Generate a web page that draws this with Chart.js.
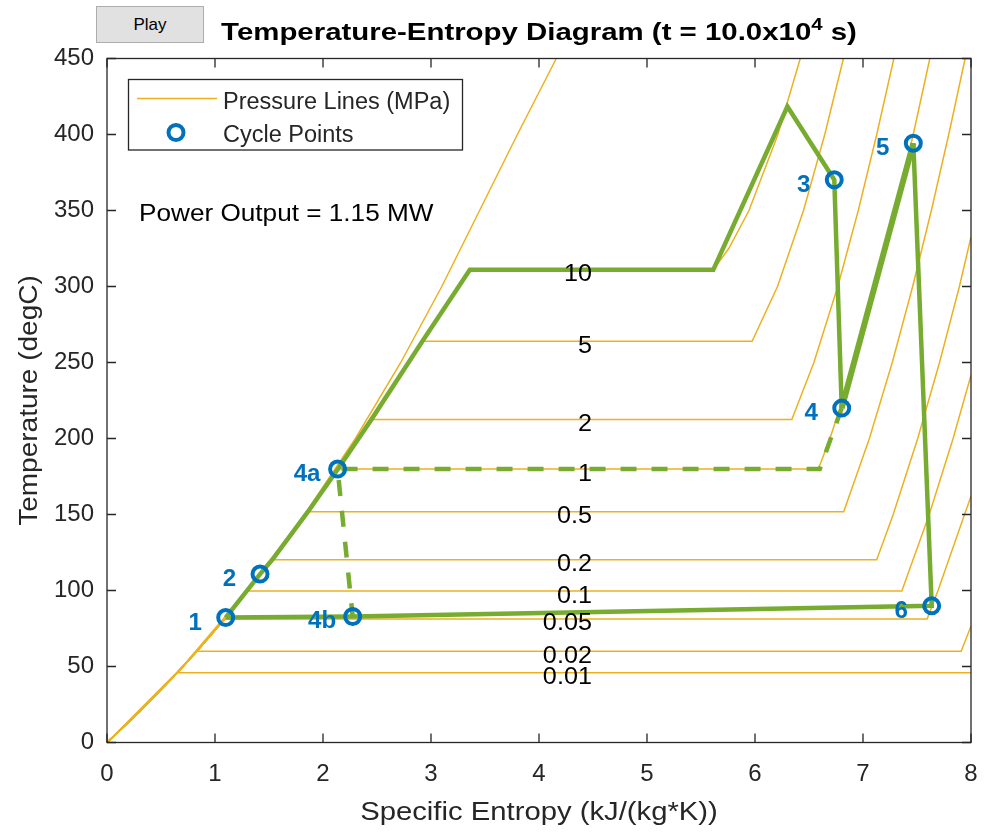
<!DOCTYPE html>
<html><head><meta charset="utf-8">
<script src="https://cdn.jsdelivr.net/npm/chart.js@4/dist/chart.umd.min.js"></script>
<style>
html,body{margin:0;padding:0;background:#fff;}
#wrap{position:relative;width:985px;height:835px;overflow:hidden;}
canvas{position:absolute;left:0;top:0;}
#play{position:absolute;left:96px;top:6px;width:108px;height:37px;background:#e1e1e1;border:1px solid #adadad;box-sizing:border-box;font:17px "Liberation Sans",Arial,sans-serif;color:#000;display:flex;align-items:center;justify-content:center;}
</style></head>
<body><div id="wrap"><canvas id="c" width="985" height="835"></canvas><div id="play">Play</div></div>
<script>
// ---- data ----
const pressureLabels = ['10','5','2','1','0.5','0.2','0.1','0.05','0.02','0.01'];
// saturated liquid line (T degC, s kJ/kgK); each pressure's Tsat is one of these entries
const satLiqT = [0, 20, 45.81, 60.06, 81.33, 99.63, 120.23, 151.86, 179.91, 212.42, 263.99, 311.06];
const satLiqS = [0, 0.2966, 0.6493, 0.8320, 1.0910, 1.3026, 1.5301, 1.8607, 2.1387, 2.4474, 2.9202, 3.3596];
const satIndex = [11, 10, 9, 8, 7, 6, 5, 4, 3, 2];
// vapour + superheated parts of each isobar
const vap10S = [5.6141, 5.7568, 5.9443, 6.2120, 6.4190], vap10T = [311.06, 325, 350, 400, 450];
const vap5S = [5.9734, 6.2084, 6.4493, 6.6459, 6.8186], vap5T = [263.99, 300, 350, 400, 450];
const vap2S = [6.3409, 6.5453, 6.7664, 6.9563, 7.1271, 7.2859], vap2T = [212.42, 250, 300, 350, 400, 450];
const vap1S = [6.5865, 6.6940, 6.9247, 7.1229, 7.3011, 7.4651, 7.6190], vap1T = [179.91, 200, 250, 300, 350, 400, 450];
const vap05S = [6.8213, 7.0592, 7.2709, 7.4599, 7.6329, 7.7938, 7.9457], vap05T = [151.86, 200, 250, 300, 350, 400, 450];
const vap02S = [7.1271, 7.2795, 7.5066, 7.7086, 7.8926, 8.0], vap02T = [120.23, 150, 200, 250, 300, 332.6];
const vap01S = [7.3594, 7.6134, 7.8343, 8.0], vap01T = [99.63, 150, 200, 241.6];
const vap005S = [7.5939, 7.6947, 7.9401, 8.0], vap005T = [81.33, 100, 150, 162];
const vap002S = [7.9085, 8.0], vap002T = [60.06, 76.5];
const vap001S = [8.0], vap001T = [45.81];
const vapS = [vap10S, vap5S, vap2S, vap1S, vap05S, vap02S, vap01S, vap005S, vap002S, vap001S];
const vapT = [vap10T, vap5T, vap2T, vap1T, vap05T, vap02T, vap01T, vap005T, vap002T, vap001T];
// compressed-liquid boundary line
const liqLineT = [0, 50, 100, 150, 200, 250, 300, 350, 400, 450];
const liqLineS = [0, 0.70, 1.30, 1.83, 2.30, 2.72, 3.10, 3.45, 3.80, 4.16];
// cycle path
const cycleS = [1.099, 1.417, 1.5301, 1.8607, 2.1387, 2.4474, 2.9202, 3.3596, 5.6141, 6.30, 6.734, 6.803, 7.466, 7.636, 2.275, 1.099];
const cycleT = [82.2, 110.8, 120.23, 151.86, 179.91, 212.42, 263.99, 311.06, 311.06, 418.4, 370.2, 220.0, 394.3, 89.9, 82.9, 82.2];
const dashS = [6.803, 6.60, 2.135, 2.275];
const dashT = [220.0, 179.91, 179.91, 82.9];
// cycle points
const pointNames = ['1', '2', '3', '4', '5', '6', '4a', '4b'];
const pointS = [1.099, 1.417, 6.734, 6.803, 7.466, 7.636, 2.135, 2.275];
const pointT = [82.2, 110.8, 370.2, 220.0, 394.3, 89.9, 179.91, 82.9];
const xTicksMax = 8, yTicksMax = 450;
const powerText = 'Power Output = 1.15 MW';

// ---- styles ----
const FAM = '"Liberation Sans", Arial, Helvetica, sans-serif';
const ORANGE = '#EDB120', GREEN = '#77AC30', BLUE = '#0072BD', AX = '#262626';

const datasets = [];
datasets.push({ label: 'liq', data: liqLineS.map((s, i) => ({x: s, y: liqLineT[i]})),
  showLine: true, borderColor: ORANGE, borderWidth: 1.5, pointRadius: 0, order: 5 });
pressureLabels.forEach((p, k) => {
  const pts = [];
  for (let i = 0; i <= satIndex[k]; i++) pts.push({x: satLiqS[i], y: satLiqT[i]});
  vapS[k].forEach((s, i) => pts.push({x: s, y: vapT[k][i]}));
  datasets.push({ label: 'P' + p, data: pts, showLine: true, borderColor: ORANGE, borderWidth: 1.5, pointRadius: 0, order: 5 });
});
datasets.push({ label: 'dash', data: dashS.map((s, i) => ({x: s, y: dashT[i]})), showLine: true,
  borderColor: GREEN, borderWidth: 4.5, borderDash: [16, 15], pointRadius: 0, order: 2 });
datasets.push({ label: 'cycle', data: cycleS.map((s, i) => ({x: s, y: cycleT[i]})), showLine: true,
  borderColor: GREEN, borderWidth: 4.5, pointRadius: 0, order: 1,
  segment: { borderWidth: c => c.p0DataIndex === 11 ? 6 : 4.5 } });
datasets.push({ label: 'points', data: pointS.map((s, i) => ({x: s, y: pointT[i]})), showLine: false,
  borderColor: BLUE, backgroundColor: 'rgba(0,0,0,0)', borderWidth: 4, pointRadius: 7.5, order: 0 });

function drawText(ctx, str, x, y, font, color, align, stretch) {
  ctx.save();
  ctx.font = font; ctx.fillStyle = color; ctx.textBaseline = 'alphabetic';
  const w = ctx.measureText(str).width * stretch;
  let x0 = x;
  if (align === 'center') x0 = x - w / 2; else if (align === 'right') x0 = x - w;
  ctx.translate(x0, y); ctx.scale(stretch, 1); ctx.textAlign = 'left';
  ctx.fillText(str, 0, 0);
  ctx.restore();
}

const decor = {
  id: 'decor',
  afterDraw(chart) {
    const ctx = chart.ctx, a = chart.chartArea, xs = chart.scales.x, ys = chart.scales.y;
    // pressure labels
    pressureLabels.forEach((p, k) => {
      const y = ys.getPixelForValue(satLiqT[satIndex[k]]);
      drawText(ctx, p, xs.getPixelForValue(4.49), y + 11.5, '24px ' + FAM, '#000', 'right', 1.05);
    });
    // point labels
    pointNames.forEach((n, i) => {
      const px = xs.getPixelForValue(pointS[i]), py = ys.getPixelForValue(pointT[i]);
      drawText(ctx, n, px - 30.5, py + 12, 'bold 23px ' + FAM, BLUE, 'center', 1.05);
    });
    // axes box + inward ticks
    ctx.save();
    ctx.strokeStyle = AX; ctx.lineWidth = 1.3;
    ctx.strokeRect(a.left, a.top, a.right - a.left, a.bottom - a.top);
    ctx.beginPath();
    xs.ticks.forEach(t => { const x = xs.getPixelForValue(t.value);
      ctx.moveTo(x, a.bottom); ctx.lineTo(x, a.bottom - 9); ctx.moveTo(x, a.top); ctx.lineTo(x, a.top + 9); });
    ys.ticks.forEach(t => { const y = ys.getPixelForValue(t.value);
      ctx.moveTo(a.left, y); ctx.lineTo(a.left + 9, y); ctx.moveTo(a.right, y); ctx.lineTo(a.right - 9, y); });
    ctx.stroke();
    ctx.restore();
    // legend
    ctx.save();
    ctx.fillStyle = '#fff'; ctx.fillRect(128.5, 79.5, 334, 70.5);
    ctx.strokeStyle = AX; ctx.lineWidth = 1.3; ctx.strokeRect(128.5, 79.5, 334, 70.5);
    ctx.strokeStyle = ORANGE; ctx.lineWidth = 1.5;
    ctx.beginPath(); ctx.moveTo(137, 98.5); ctx.lineTo(217, 98.5); ctx.stroke();
    ctx.strokeStyle = BLUE; ctx.lineWidth = 4;
    ctx.beginPath(); ctx.arc(176, 132.5, 7.5, 0, Math.PI * 2); ctx.stroke();
    ctx.restore();
    drawText(ctx, 'Pressure Lines (MPa)', 223, 108.5, '23.5px ' + FAM, AX, 'left', 1.0);
    drawText(ctx, 'Cycle Points', 223, 141.5, '23.5px ' + FAM, AX, 'left', 1.0);
    // power output
    drawText(ctx, powerText, 139, 221, '24px ' + FAM, '#000', 'left', 1.09);
    // title with superscript
    ctx.save();
    const tf = 'bold 24.5px ' + FAM, sf = 'bold 17px ' + FAM, st = 1.2;
    ctx.font = tf; const w1 = ctx.measureText('Temperature-Entropy Diagram (t = 10.0x10').width * st;
    const w3 = ctx.measureText(' s)').width * st;
    ctx.font = sf; const w2 = ctx.measureText('4').width * st;
    ctx.restore();
    const cx = (a.left + a.right) / 2, x0 = cx - (w1 + w2 + w3) / 2;
    drawText(ctx, 'Temperature-Entropy Diagram (t = 10.0x10', x0, 40, tf, '#000', 'left', st);
    drawText(ctx, '4', x0 + w1, 30, sf, '#000', 'left', st);
    drawText(ctx, ' s)', x0 + w1 + w2, 40, tf, '#000', 'left', st);
    // axis titles
    drawText(ctx, 'Specific Entropy (kJ/(kg*K))', cx, 820, '25px ' + FAM, AX, 'center', 1.17);
    ctx.save();
    ctx.translate(37, (a.top + a.bottom) / 2); ctx.rotate(-Math.PI / 2);
    drawText(ctx, 'Temperature (degC)', 0, 0, '25px ' + FAM, AX, 'center', 1.12);
    ctx.restore();
  }
};

const tickFont = { family: FAM, size: 24 };
new Chart(document.getElementById('c'), {
  type: 'scatter',
  data: { datasets },
  options: {
    responsive: false, animation: false, devicePixelRatio: 1,
    layout: { padding: { left: 0, right: 14, top: 58.5, bottom: 0 } },
    plugins: { legend: { display: false }, tooltip: { enabled: false }, title: { display: false } },
    elements: { line: { tension: 0, borderJoinStyle: 'miter' } },
    scales: {
      x: { type: 'linear', min: 0, max: xTicksMax,
        ticks: { stepSize: 1, font: tickFont, color: AX, padding: 17, maxRotation: 0 },
        grid: { display: false, drawTicks: false }, border: { display: false },
        afterFit(s) { s.height = 92.5; s.paddingLeft = 0; s.paddingRight = 0; } },
      y: { type: 'linear', min: 0, max: yTicksMax,
        ticks: { stepSize: 50, font: tickFont, color: AX, padding: 13 },
        grid: { display: false, drawTicks: false }, border: { display: false },
        afterFit(s) { s.width = 107; s.paddingTop = 0; s.paddingBottom = 0; } }
    }
  },
  plugins: [decor]
});
</script>
</body></html>
